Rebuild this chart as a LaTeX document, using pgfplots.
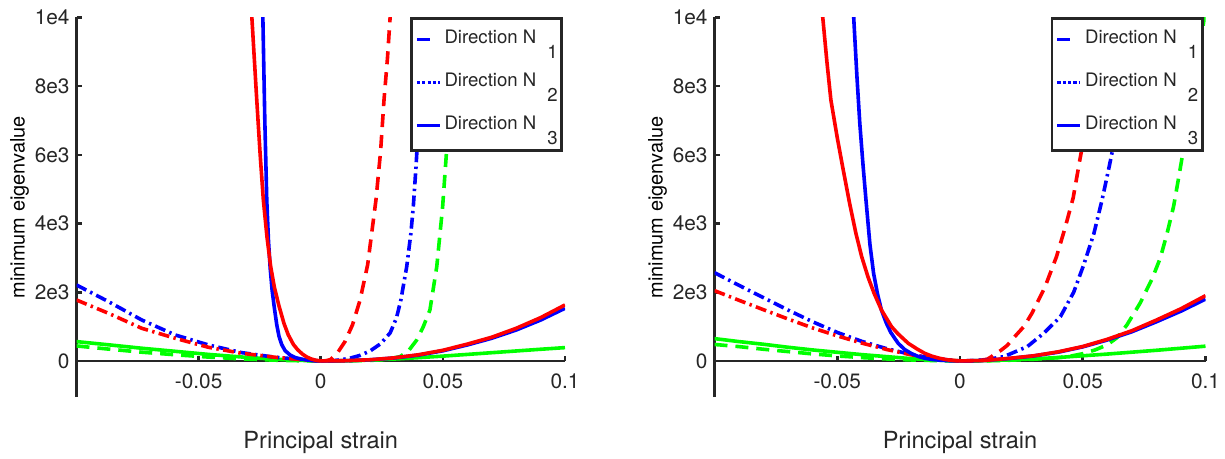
\documentclass[border=0pt]{standalone}
\usepackage{pgfplots}
\pgfplotsset{compat=1.18}
\usepackage{fontspec}
\setmainfont{TeX Gyre Heros}
\definecolor{axgray}{RGB}{38,38,38}

\pgfplotsset{
  panel/.style={
    scale only axis,
    height=189.75bp,
    xmin=-0.1, xmax=0.1,
    ymin=-1050, ymax=10000,
    scaled y ticks=false,
    scaled x ticks=false,
    axis x line=middle,
    axis y line=left,
    axis line style={-, line width=1.3bp, draw=axgray},
    every inner x axis line/.append style={-},
    every outer y axis line/.append style={-},
    xtick={-0.05,0,0.05,0.1},
    xticklabels={-0.05,0,0.05,0.1},
    ytick={0,2000,4000,6000,8000,10000},
    yticklabels={0,2e3,4e3,6e3,8e3,1e4},
    hide obscured x ticks=false,
    hide obscured y ticks=false,
    tick align=inside,
    major tick length=2.5bp,
    tick style={line width=1.3bp, draw=axgray},
    ticklabel style={font=\fontsize{10.4bp}{12bp}\selectfont, text=axgray},
    xticklabel style={anchor=base, yshift=-13.65bp},
    every axis x label/.style={at={(axis description cs:0.5,-0.1344)}, anchor=base},
    label style={font=\fontsize{11.8bp}{14bp}\selectfont, text=axgray},
    xlabel={Principal strain},
    ylabel={minimum eigenvalue},
    legend cell align=left,
    legend image code/.code={\draw[##1] (0bp,1bp) -- (11.5bp,1bp);},
    legend style={
      at={(rel axis cs:1,1)}, anchor=north east, xshift=-1bp,
      draw=axgray, line width=1.3bp, fill=white,
      inner xsep=2bp, inner ysep=4.2bp,
      row sep=7.67bp, column sep=1.5bp,
      font=\fontsize{9.3bp}{11bp}\selectfont, text=axgray,
      nodes={inner sep=0pt, text height=8bp, text depth=6bp},
    },
  },
  sl/.style={line width=1.8bp, line join=round},
  dl/.style={line width=1.8bp, line join=round, dash pattern=on 6.5bp off 4bp},
  ddl/.style={line width=1.8bp, line join=round, dash pattern=on 5.5bp off 2.2bp on 1.2bp off 2.2bp},
}

\newcommand{\legN}[1]{Direction N\hspace{5.5bp}\raisebox{-7.5bp}{#1}\hspace{2bp}}

\begin{document}
\begin{tikzpicture}
\path[use as bounding box] (0,0) rectangle (612.5bp,229.5bp);

% ---------------- Left panel ----------------
\begin{axis}[panel, width=244.25bp, at={(38.25bp,31bp)}, anchor=south west,
  every axis y label/.style={at={(axis description cs:-0.1064,0.5)}, anchor=base, rotate=90}]
\addlegendimage{blue, line width=1.6bp, dash pattern=on 6.5bp off 6bp}
\addlegendentry{\legN{1}}
\addlegendimage{blue, line width=1.6bp, dash pattern=on 1.6bp off 1.05bp}
\addlegendentry{\legN{2}}
\addlegendimage{blue, line width=1.6bp}
\addlegendentry{\legN{3}}

% green solid
\addplot[green, sl, forget plot] table {
-0.1 563
-0.0869 470
-0.0733 370
-0.0596 280
-0.046 190
-0.0324 115
-0.0187 50
-0.0051 8
0 0
0.01 5
0.02 25
0.03 55
0.04 95
0.05 140
0.06 190
0.07 240
0.08 290
0.09 340
0.10 388
};
% green dashed
\addplot[green, dl, forget plot] table {
-0.1 437
-0.0869 345
-0.0733 255
-0.0596 180
-0.046 112
-0.0324 60
-0.0187 22
-0.008 4
0 0
0.01 3
0.02 15
0.025 35
0.0290 75
0.0325 126
0.0360 300
0.0393 611
0.0420 1000
0.0447 1484
0.0475 2745
0.0499 4490
0.0514 6000
0.0527 8000
0.0540 10000
0.0552 12500
};
% blue dash-dot
\addplot[blue, ddl, forget plot] table {
-0.1 2212
-0.0869 1727
-0.0733 1193
-0.0596 757
-0.046 466
-0.0324 242
-0.0187 107
-0.0051 29
0 0
0.005 5
0.0079 30
0.0120 80
0.0160 160
0.0202 290
0.0245 500
0.0284 815
0.0310 1250
0.0328 1775
0.0352 2745
0.0369 3715
0.0379 4500
0.0390 5650
0.0400 6900
0.0410 8400
0.0419 10000
0.0425 11000
};
% red dash-dot
\addplot[red, ddl, forget plot] table {
-0.1 1775
-0.0869 1387
-0.0733 951
-0.0596 660
-0.046 398
-0.0324 223
-0.0187 107
-0.005 20
0 0
};
% red dashed
\addplot[red, dl, forget plot] table {
0 0
0.002 5
0.004 40
0.007 250
0.0099 560
0.013 1050
0.0161 1775
0.0192 2800
0.0226 4685
0.0245 6100
0.0259 7600
0.0273 8800
0.0284 10000
0.0292 11000
};
% blue solid
\addplot[blue, sl, forget plot] table {
-0.0245 13000
-0.0237 10000
-0.0229 7000
-0.0221 4685
-0.0214 3500
-0.0207 2700
-0.0199 2050
-0.0190 1550
-0.0180 1050
-0.0171 720
-0.0160 480
-0.0146 300
-0.0125 170
-0.0105 100
-0.0080 55
-0.0060 32
-0.0040 15
-0.0020 4
0 0
0.01 7
0.02 32
0.03 85
0.04 170
0.05 295
0.06 465
0.07 660
0.08 900
0.09 1190
0.10 1533
};
% red solid
\addplot[red, sl, forget plot] table {
-0.0292 12000
-0.0282 10000
-0.0262 7600
-0.0248 6000
-0.0235 4685
-0.0220 3600
-0.0205 2750
-0.0190 2150
-0.0171 1600
-0.0150 1080
-0.0133 760
-0.0112 480
-0.0095 330
-0.0075 200
-0.0057 115
-0.0040 60
-0.0020 18
0 0
0.01 7
0.02 34
0.03 90
0.04 180
0.05 310
0.06 490
0.07 690
0.08 950
0.09 1260
0.10 1630
};
\end{axis}

% ---------------- Right panel ----------------
\begin{axis}[panel, width=245.5bp, at={(357.25bp,31bp)}, anchor=south west,
  every axis y label/.style={at={(axis description cs:-0.1059,0.5)}, anchor=base, rotate=90}]
\addlegendimage{blue, line width=1.6bp, dash pattern=on 6.5bp off 6bp}
\addlegendentry{\legN{1}}
\addlegendimage{blue, line width=1.6bp, dash pattern=on 1.6bp off 1.05bp}
\addlegendentry{\legN{2}}
\addlegendimage{blue, line width=1.6bp}
\addlegendentry{\legN{3}}

% green solid
\addplot[green, sl, forget plot] table {
-0.1 650
-0.09 563
-0.08 485
-0.07 398
-0.06 320
-0.05 252
-0.04 184
-0.03 126
-0.02 68
-0.01 25
0 0
0.01 8
0.02 28
0.03 60
0.04 100
0.05 150
0.06 200
0.07 255
0.08 310
0.09 370
0.10 430
};
% green dashed
\addplot[green, dl, forget plot] table {
-0.1 480
-0.09 417
-0.08 340
-0.07 272
-0.06 204
-0.05 146
-0.04 97
-0.03 58
-0.02 29
-0.01 10
0 0
0.01 3
0.02 20
0.03 50
0.04 95
0.045 140
0.05 210
0.055 320
0.06 470
0.064 680
0.068 1050
0.0735 1700
0.0783 2400
0.0816 3000
0.0843 3700
0.0870 4500
0.0891 5350
0.0910 6150
0.0940 7400
0.0970 8700
0.0995 10000
0.1000 10250
};
% blue dash-dot
\addplot[blue, ddl, forget plot] table {
-0.1 2570
-0.09 2200
-0.08 1840
-0.07 1480
-0.06 1140
-0.05 830
-0.04 570
-0.03 360
-0.02 190
-0.01 65
0 0
0.005 5
0.0100 30
0.0179 126
0.0274 417
0.0341 805
0.0409 1290
0.0463 2000
0.0504 2800
0.0545 3700
0.0579 4700
0.0606 5600
0.0626 6300
0.0660 7500
0.0690 8700
0.0722 10000
0.0740 11000
};
% red dash-dot
\addplot[red, ddl, forget plot] table {
-0.1 2047
-0.09 1765
-0.08 1490
-0.07 1220
-0.06 960
-0.05 730
-0.04 520
-0.03 335
-0.02 180
-0.01 60
0 0
};
% red dashed
\addplot[red, dl, forget plot] table {
0 0
0.005 5
0.008 15
0.0111 50
0.0125 110
0.0138 175
0.0165 300
0.0192 450
0.0223 708
0.0260 1000
0.0294 1400
0.0346 2150
0.0393 3036
0.0427 3850
0.0461 4750
0.0488 5849
0.0510 6700
0.0535 8100
0.0564 10000
0.0585 11500
};
% blue solid
\addplot[blue, sl, forget plot] table {
-0.0445 12500
-0.0433 10000
-0.0420 8300
-0.0408 6900
-0.0395 5700
-0.0383 4685
-0.0367 3400
-0.0352 2550
-0.0336 1950
-0.0320 1480
-0.0300 1100
-0.0282 830
-0.0252 514
-0.0225 330
-0.0198 215
-0.0170 130
-0.0144 78
-0.0110 40
-0.0076 19
-0.0040 5
0 0
0.01 15
0.02 70
0.03 145
0.04 255
0.05 410
0.06 610
0.07 850
0.08 1140
0.09 1450
0.10 1800
};
% red solid
\addplot[red, sl, forget plot] table {
-0.0572 11500
-0.0559 10000
-0.0542 8700
-0.0526 7600
-0.0500 6500
-0.0478 5650
-0.0450 4600
-0.0424 3715
-0.0401 3050
-0.0375 2450
-0.0350 1970
-0.0320 1484
-0.0279 999
-0.0254 800
-0.0211 514
-0.0173 340
-0.0144 223
-0.0115 140
-0.0085 80
-0.0050 30
-0.0022 8
0 0
0.01 15
0.02 75
0.03 150
0.04 265
0.05 420
0.06 630
0.07 880
0.08 1190
0.09 1520
0.10 1900
};
\end{axis}
\end{tikzpicture}
\end{document}
